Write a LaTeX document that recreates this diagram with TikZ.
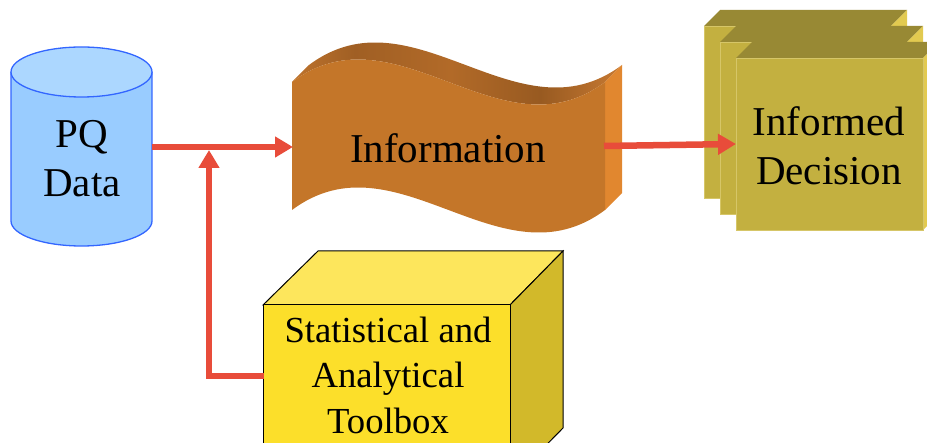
\documentclass[tikz,border=0pt]{standalone}
\usepackage{fontspec}
\setmainfont{Liberation Serif}
\usetikzlibrary{arrows.meta}

\definecolor{arrowred}{RGB}{232,76,58}
\definecolor{cylbody}{RGB}{153,204,255}
\definecolor{cyltop}{RGB}{172,215,255}
\definecolor{cylline}{RGB}{51,102,255}
\definecolor{infofront}{RGB}{196,118,41}
\definecolor{infoside}{RGB}{225,135,47}
\definecolor{decfront}{RGB}{195,176,64}
\definecolor{dectop}{RGB}{152,137,52}
\definecolor{decside}{RGB}{226,202,80}
\definecolor{decedge}{RGB}{214,198,104}
\definecolor{toolfront}{RGB}{252,223,42}
\definecolor{tooltop}{RGB}{253,230,92}
\definecolor{toolside}{RGB}{210,185,42}

% darker and lighter bands along the curled top of the banner
\pgfdeclarehorizontalshading{bandshade}{100bp}{%
  rgb(0bp)=(0.745,0.451,0.176);
  rgb(25bp)=(0.745,0.451,0.176);
  rgb(34.5bp)=(0.627,0.373,0.141);
  rgb(49bp)=(0.698,0.416,0.157);
  rgb(62.6bp)=(0.596,0.353,0.129);
  rgb(75bp)=(0.784,0.478,0.196);
  rgb(100bp)=(0.784,0.478,0.196)}

\tikzset{
  redline/.style={draw=arrowred, line width=6.5pt, line join=miter},
  redarrow/.style={redline, -{Triangle[length=18pt,width=20pt]}},
  bigtext/.style={font=\fontsize{41}{49}\selectfont, align=center, inner sep=0pt},
  toolText/.style={font=\fontsize{36.7}{45.5}\selectfont, align=center, inner sep=0pt},
}

\begin{document}
\begin{tikzpicture}[x=1pt, y=-1pt]
\useasboundingbox (0,0) rectangle (927,443);

% ---- PQ data cylinder ----
\fill[cylbody] (11,72) rectangle (152,221);
\fill[cylbody] (81.5,221) ellipse [x radius=70.5, y radius=25];
\draw[cylline, line width=1.3pt] (11,72) -- (11,221)
  arc[start angle=180, end angle=0, x radius=70.5, y radius=25] -- (152,72);
\filldraw[fill=cyltop, draw=cylline, line width=1.3pt]
  (81.5,72) ellipse [x radius=70.5, y radius=25];
\node[bigtext] (db) at (82,159) {PQ\\Data};

% ---- Information banner ----
\shade[shading=bandshade]
  (292,82) -- (309,65) .. controls (413.3,-13) and (517.7,143) .. (622,65)
  -- (605,82) .. controls (500.7,160) and (396.3,4) .. (292,82) -- cycle;
\fill[infoside] (605,82) -- (622,65) -- (622,193) -- (605,210) -- cycle;
\fill[infofront]
  (292,82) .. controls (396.3,4) and (500.7,160) .. (605,82)
  -- (605,210) .. controls (500.7,288) and (396.3,132) .. (292,210) -- cycle;
\node[bigtext] (info) at (448,148) {Information};

% ---- stacked decision sheets ----
\foreach \i in {0,1,2} {
  \pgfmathsetmacro{\fx}{704+16*\i}
  \pgfmathsetmacro{\fy}{26+16*\i}
  \fill[dectop] (\fx,\fy) -- (\fx+16,\fy-16) -- (\fx+203,\fy-16) -- (\fx+187,\fy) -- cycle;
  \fill[decside] (\fx+187,\fy) -- (\fx+203,\fy-16) -- (\fx+203,\fy+156) -- (\fx+187,\fy+172) -- cycle;
  \filldraw[fill=decfront, draw=decedge, line width=0.7pt] (\fx,\fy) rectangle (\fx+187,\fy+172);
}
\node[bigtext] (dec) at (829,146) {Informed\\Decision};

% ---- toolbox cube ----
\filldraw[fill=tooltop, draw=black, line width=1pt]
  (263,305) -- (318,251) -- (563,251) -- (510,305) -- cycle;
\filldraw[fill=toolside, draw=black, line width=1pt]
  (510,305) -- (563,251) -- (563,428) -- (510,482) -- cycle;
\filldraw[fill=toolfront, draw=black, line width=1pt]
  (263,305) rectangle (510,482);
\node[toolText] (tool) at (388,375) {Statistical and\\Analytical\\Toolbox};

% ---- connectors ----
\coordinate (dbout) at (152,147);
\coordinate (infoin) at (293,147);
\coordinate (tee) at (209,150);
\coordinate (toolout) at (264,376);
\coordinate (infoout) at (604,146);
\coordinate (decin) at (736,144);

\draw[redarrow] (dbout) -- (infoin);
\draw[redarrow] (toolout) -| (tee);
\draw[redarrow] (infoout) -- (decin);
\end{tikzpicture}
\end{document}
